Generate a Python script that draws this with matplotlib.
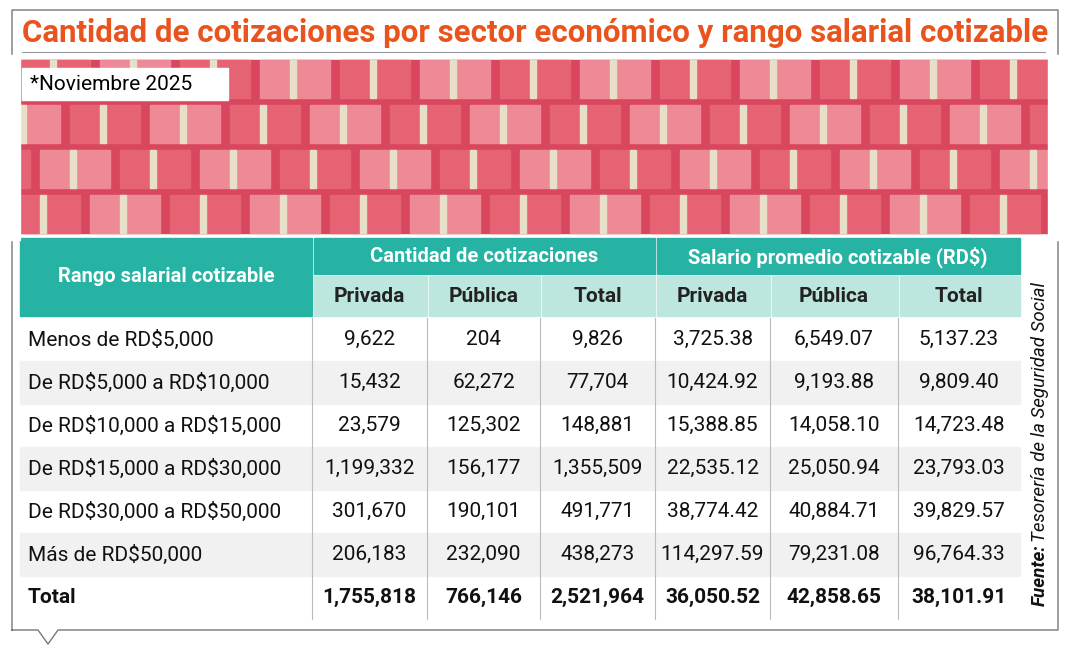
import matplotlib
matplotlib.use("Agg")
import matplotlib.pyplot as plt
from matplotlib.patches import Rectangle

rangos = ["Menos de RD$5,000", "De RD$5,000 a RD$10,000", "De RD$10,000 a RD$15,000",
          "De RD$15,000 a RD$30,000", "De RD$30,000 a RD$50,000", "Más de RD$50,000"]
cant_privada = ["9,622", "15,432", "23,579", "1,199,332", "301,670", "206,183"]
cant_publica = ["204", "62,272", "125,302", "156,177", "190,101", "232,090"]
cant_total = ["9,826", "77,704", "148,881", "1,355,509", "491,771", "438,273"]
sal_privada = ["3,725.38", "10,424.92", "15,388.85", "22,535.12", "38,774.42", "114,297.59"]
sal_publica = ["6,549.07", "9,193.88", "14,058.10", "25,050.94", "40,884.71", "79,231.08"]
sal_total = ["5,137.23", "9,809.40", "14,723.48", "23,793.03", "39,829.57", "96,764.33"]
totales = ["1,755,818", "766,146", "2,521,964", "36,050.52", "42,858.65", "38,101.91"]

TEAL = "#26b3a3"
LTEAL = "#bde6df"
ORANGE = "#e9541e"
FONT = "Roboto"

fig = plt.figure(figsize=(10.68, 6.47), dpi=100)
ax = fig.add_axes([0, 0, 1, 1])
ax.set_xlim(0, 1068)
ax.set_ylim(647, 0)
ax.axis("off")

# outer frame with pointer
ax.plot([12, 38, 48, 58, 1058, 1058, 12, 12], [630, 630, 644, 630, 630, 10, 10, 630],
        color="#777777", lw=1)

ax.text(22, 33, "Cantidad de cotizaciones por sector económico y rango salarial cotizable",
        color=ORANGE, fontsize=22.5, fontweight="bold", family=FONT, va="center")
ax.plot([22, 1045], [52, 52], color="#999999", lw=0.8)

# photo banner approximation
ax.add_patch(Rectangle((20, 60), 1028, 173, color="#d9475e", zorder=1))
for i in range(14):
    for j in range(4):
        x0 = 20 + i * 80 - j * 30
        y0 = 60 + j * 45
        ax.add_patch(Rectangle((x0, y0), 70, 38, color="#ee8a96" if (i + j) % 2 else "#e56373",
                               zorder=2))
        ax.add_patch(Rectangle((x0 + 30, y0), 6, 38, color="#e9dfc8", zorder=3))
ax.add_patch(Rectangle((1048, 55), 20, 185, color="white", zorder=4))
ax.add_patch(Rectangle((0, 55), 20, 185, color="white", zorder=4))
ax.add_patch(Rectangle((22, 68), 206, 32, color="white", zorder=5))
ax.text(30, 85, "*Noviembre 2025", fontsize=15, family=FONT, va="center", zorder=6)

cols = [20, 312, 427, 540, 655, 770, 898, 1020]
r1, r2, r3 = 238, 276, 316
rowh = 43

# header
ax.add_patch(Rectangle((20, r1), 292, r3 - r1, color=TEAL))
ax.text(166, (r1 + r3) / 2, "Rango salarial cotizable", color="white", fontsize=14.5,
        fontweight="bold", family=FONT, ha="center", va="center")
ax.add_patch(Rectangle((314, r1), 341, r2 - r1 - 2, color=TEAL))
ax.add_patch(Rectangle((657, r1), 363, r2 - r1 - 2, color=TEAL))
ax.text(484, 257, "Cantidad de cotizaciones", color="white", fontsize=14.5,
        fontweight="bold", family=FONT, ha="center", va="center")
ax.text(838, 257, "Salario promedio cotizable (RD$)", color="white", fontsize=14.5,
        fontweight="bold", family=FONT, ha="center", va="center", parse_math=False)
for k, lab in enumerate(["Privada", "Pública", "Total"] * 2):
    x0, x1 = cols[k + 1], cols[k + 2]
    ax.add_patch(Rectangle((x0 + 2, r2), x1 - x0 - 2, r3 - r2, color=LTEAL))
    ax.text((x0 + x1) / 2, (r2 + r3) / 2, lab, color="#222222", fontsize=15,
            fontweight="bold", family=FONT, ha="center", va="center")

# body
data_cols = [cant_privada, cant_publica, cant_total, sal_privada, sal_publica, sal_total]
nrows = len(rangos) + 1
for i in range(nrows):
    y0 = r3 + 2 + i * rowh
    if i % 2 == 1:
        ax.add_patch(Rectangle((20, y0), 1000, rowh, color="#f1f1f1", zorder=0))
    yc = y0 + rowh / 2
    bold = i == len(rangos)
    label = "Total" if bold else rangos[i]
    ax.text(28, yc, label, fontsize=15, family=FONT, va="center", color="#111111",
            fontweight="bold" if bold else "normal", parse_math=False)
    for k in range(6):
        val = totales[k] if bold else data_cols[k][i]
        ax.text((cols[k + 1] + cols[k + 2]) / 2, yc, val, fontsize=15, family=FONT,
                ha="center", va="center", color="#111111",
                fontweight="bold" if bold else "normal")
for x in cols[1:-1]:
    ax.plot([x, x], [r3 + 2, r3 + 2 + nrows * rowh], color="#bbbbbb", lw=0.8)

ax.text(1040, 606, "Fuente:", rotation=90, fontsize=13.5, family=FONT, style="italic",
        fontweight="bold", ha="center", va="bottom", color="#111111")
ax.text(1040, 542, "Tesorería de la Seguridad Social", rotation=90, fontsize=13.5,
        family=FONT, style="italic", ha="center", va="bottom", color="#111111")

fig.savefig("out.png", dpi=100)
